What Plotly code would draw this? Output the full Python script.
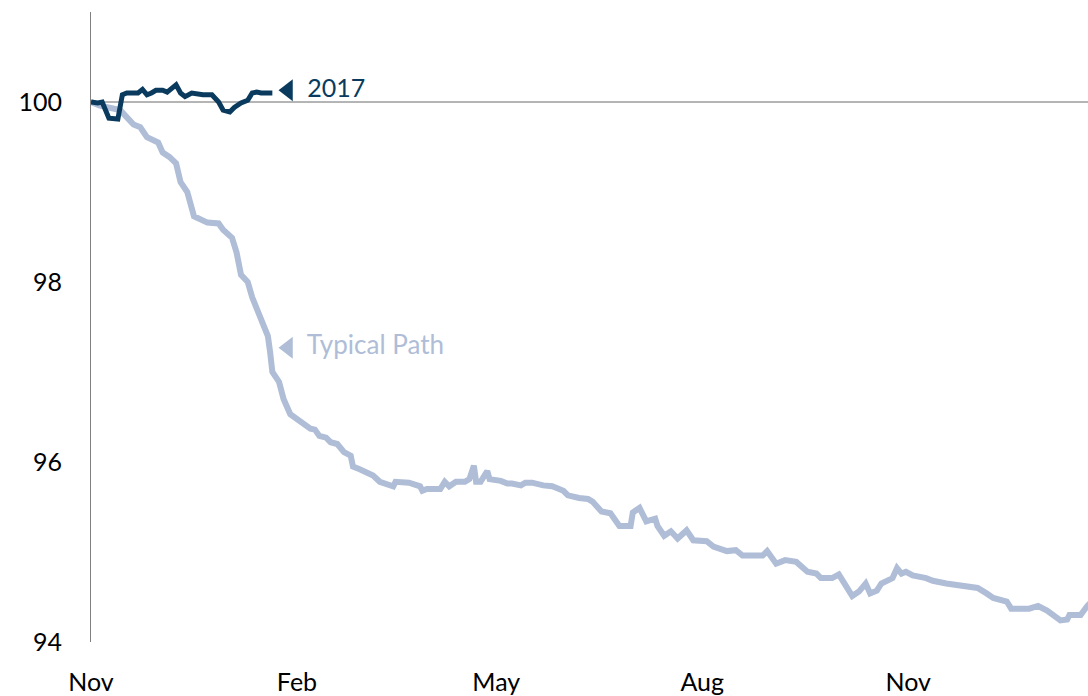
import pandas as pd
import plotly.graph_objects as go

# Calendar origin for the day offsets below
start = pd.Timestamp("2016-11-01")

# Typical path: day offset from 1 Nov and index level
typical_days = [0, 4, 13, 19, 22, 25, 30, 32, 35, 38, 40, 43, 46, 52, 57, 59, 63, 65, 67, 70,
                72, 76, 79, 80, 81, 84, 86, 89, 93, 96, 98, 100, 102, 105, 107, 110, 113, 116,
                117, 120, 123, 126,
                129, 134, 135, 136, 142, 147, 148, 150, 156, 158, 160, 163, 167, 169, 171, 172,
                174, 177, 178, 183, 186, 188, 192, 194, 197, 202, 206, 211, 213, 218, 222, 224,
                228, 232, 235, 236, 241, 242, 245, 248, 252, 253, 256, 259, 262, 266, 269, 275,
                278, 284, 288, 291, 300, 302, 306, 310, 315, 318, 320, 324, 326, 331, 334, 336,
                340, 343, 346, 348, 351, 353, 358, 360, 362, 364, 367, 373, 376, 382, 389, 396,
                400, 403, 409, 411, 419, 423, 427, 430, 433, 436, 437, 442, 445, 449]
typical_vals = [100.00, 99.96, 99.91, 99.75, 99.72, 99.61, 99.55, 99.44, 99.39, 99.32, 99.11,
                99.00, 98.73, 98.66, 98.65, 98.58, 98.49, 98.33, 98.08, 98.00, 97.83, 97.59,
                97.40, 97.22, 97.00, 96.89, 96.70, 96.53, 96.46, 96.42, 96.37, 96.36, 96.29,
                96.27, 96.22, 96.20, 96.11,
                96.07, 95.95, 95.92, 95.89, 95.85, 95.78, 95.74, 95.73, 95.78, 95.77, 95.73,
                95.68, 95.70, 95.70, 95.78, 95.73, 95.78, 95.78, 95.81, 95.96, 95.78, 95.78,
                95.90, 95.81, 95.79, 95.76, 95.76, 95.74, 95.77, 95.77, 95.74, 95.73, 95.68,
                95.63, 95.60, 95.59, 95.56, 95.45, 95.43, 95.34, 95.29, 95.29, 95.44, 95.49,
                95.34, 95.37, 95.29, 95.18, 95.23, 95.15, 95.24, 95.13, 95.12, 95.06, 95.01,
                95.02, 94.96, 94.96, 95.01, 94.87, 94.91, 94.89, 94.82, 94.78, 94.76, 94.71,
                94.71, 94.75, 94.67, 94.51, 94.56, 94.65, 94.54, 94.57, 94.65, 94.71, 94.82,
                94.76, 94.78, 94.74, 94.71, 94.68, 94.65, 94.63, 94.60, 94.54, 94.49, 94.45,
                94.37, 94.37, 94.40, 94.35, 94.29, 94.24, 94.25, 94.30, 94.30, 94.40, 94.50]

# 2017 path
y2017_days = [0, 3, 5, 8, 12, 14, 16, 21, 23, 25, 27, 29, 32, 34, 38, 40, 42, 45, 50, 54,
              57, 59, 62, 64, 67, 70, 72, 74, 76, 81]
y2017_vals = [100.00, 99.99, 100.00, 99.82, 99.81, 100.08, 100.10, 100.10, 100.14, 100.08,
              100.10, 100.13, 100.13, 100.11, 100.19, 100.10, 100.06, 100.10, 100.08, 100.08,
              100.00, 99.91, 99.89, 99.94, 99.99, 100.02, 100.10, 100.11, 100.10, 100.10]

y_ticks = [94, 96, 98, 100]

DARK = "#0A3B5E"
LIGHT = "#AFBDD7"
FONT = "Lato"


def to_dates(days):
    return [start + pd.Timedelta(days=d) for d in days]


fig = go.Figure()

fig.add_trace(go.Scatter(
    x=to_dates(typical_days), y=typical_vals, mode="lines",
    line=dict(color=LIGHT, width=6), name="Typical Path", hoverinfo="skip",
))
fig.add_trace(go.Scatter(
    x=to_dates(y2017_days), y=y2017_vals, mode="lines",
    line=dict(color=DARK, width=5), name="2017", hoverinfo="skip",
))

# Series labels with left-pointing markers
fig.add_trace(go.Scatter(
    x=to_dates([88]), y=[100.13], mode="markers+text",
    marker=dict(symbol="triangle-left", size=19, color=DARK),
    text=[" 2017"], textposition="middle right",
    textfont=dict(family=FONT, size=25, color=DARK), hoverinfo="skip",
))
fig.add_trace(go.Scatter(
    x=to_dates([88]), y=[97.27], mode="markers+text",
    marker=dict(symbol="triangle-left", size=19, color=LIGHT),
    text=[" Typical Path"], textposition="middle right",
    textfont=dict(family=FONT, size=26, color=LIGHT), hoverinfo="skip",
))

# Reference line at 100
fig.add_shape(type="line", xref="paper", x0=0, x1=1, yref="y", y0=100, y1=100,
              line=dict(color="#6b6b6b", width=1), layer="below")

fig.update_layout(
    width=1088, height=696,
    margin=dict(l=91, r=0, t=12, b=52),
    paper_bgcolor="white", plot_bgcolor="white",
    showlegend=False,
    font=dict(family=FONT, size=25, color="#000000"),
    xaxis=dict(
        type="date",
        range=[start, start + pd.Timedelta(days=445.3)],
        tick0=start, dtick="M3", tickformat="%b",
        showgrid=False, zeroline=False, showline=False,
        ticks="", ticklabelstandoff=23,
    ),
    yaxis=dict(
        range=[94, 101], tickvals=y_ticks, ticktext=[str(v) for v in y_ticks],
        showgrid=False, zeroline=False, showline=True,
        linecolor="#808080", linewidth=1,
        ticks="", ticklabelstandoff=23,
    ),
)

fig.write_html("out.html")
